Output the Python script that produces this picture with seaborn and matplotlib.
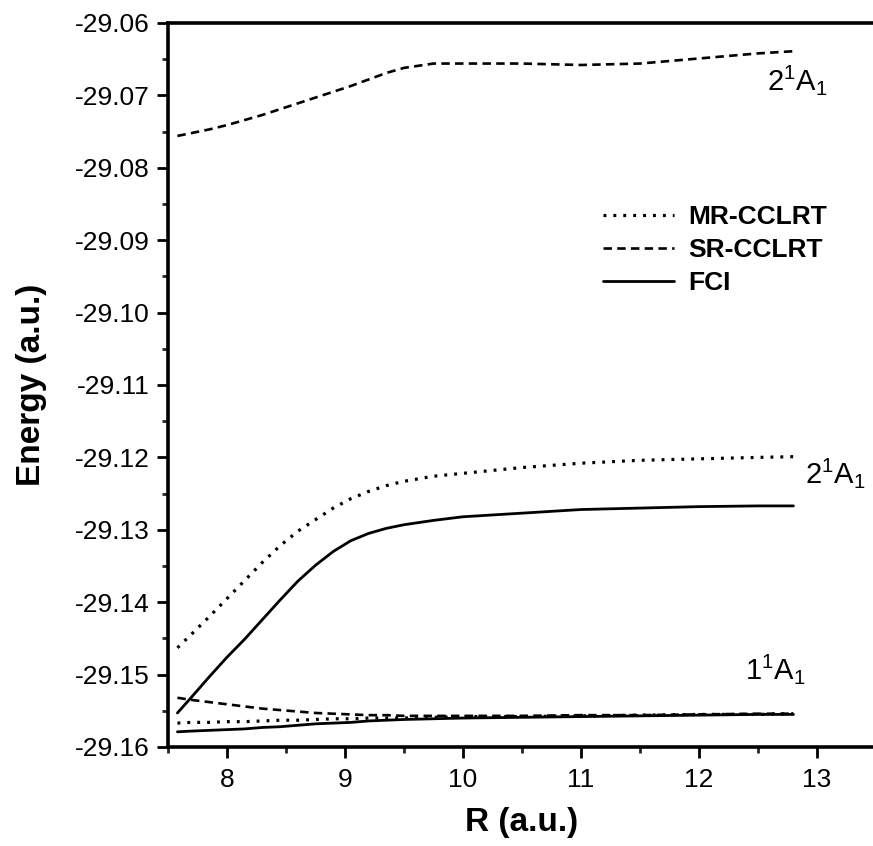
import matplotlib
matplotlib.use("Agg")
import matplotlib.pyplot as plt
import seaborn as sns
from matplotlib.ticker import MultipleLocator, StrMethodFormatter
from matplotlib.lines import Line2D

# ---------------- data ----------------
R = [7.58, 7.7, 7.85, 8.0, 8.15, 8.3, 8.45, 8.6, 8.75, 8.9, 9.05, 9.2, 9.35, 9.5, 9.75,
     10.0, 10.5, 11.0, 11.5, 12.0, 12.5, 12.8]

fci_2A1 = [-29.1553, -29.1531, -29.1503, -29.1476, -29.1451, -29.1424, -29.1397, -29.1371, -29.1349,
           -29.1330, -29.1315, -29.1305, -29.1298, -29.1293, -29.1287,
           -29.1282, -29.1277, -29.1272, -29.1270, -29.1268, -29.1267, -29.1267]
mr_2A1 = [-29.1463, -29.1444, -29.1420, -29.1395, -29.1370, -29.1345, -29.1322, -29.1302, -29.1286,
          -29.1270, -29.1257, -29.1247, -29.1239, -29.1233, -29.1226,
          -29.1222, -29.1214, -29.1208, -29.1204, -29.1202, -29.1200, -29.1199]
sr_2A1 = [-29.0756, -29.0752, -29.0747, -29.0741, -29.0734, -29.0727, -29.0719, -29.0711, -29.0703,
          -29.0695, -29.0687, -29.0678, -29.0669, -29.0662, -29.0656,
          -29.0656, -29.0656, -29.0658, -29.0656, -29.0649, -29.0642, -29.0639]

sr_1A1 = [-29.1532, -29.1535, -29.1538, -29.1541, -29.1544, -29.1547, -29.1549, -29.1551, -29.1553,
          -29.1554, -29.1555, -29.1556, -29.1556, -29.1557, -29.1557,
          -29.1557, -29.1557, -29.1556, -29.1556, -29.1555, -29.1554, -29.1554]
mr_1A1 = [-29.1567, -29.1566, -29.1566, -29.1565, -29.1565, -29.1564, -29.1563, -29.1563, -29.1562,
          -29.1561, -29.1561, -29.1560, -29.1560, -29.1560, -29.1559,
          -29.1558, -29.1558, -29.1557, -29.1556, -29.1555, -29.1555, -29.1554]
fci_1A1 = [-29.1579, -29.1578, -29.1577, -29.1576, -29.1575, -29.1573, -29.1572, -29.1570, -29.1568,
           -29.1567, -29.1566, -29.1564, -29.1563, -29.1562, -29.1561,
           -29.1560, -29.1559, -29.1558, -29.1557, -29.1556, -29.1555, -29.1555]

methods = ["MR-CCLRT", "SR-CCLRT", "FCI"]
x_ticks = [8, 9, 10, 11, 12, 13]
y_ticks = [-29.06, -29.07, -29.08, -29.09, -29.10, -29.11, -29.12, -29.13, -29.14, -29.15, -29.16]

# ---------------- style ----------------
sns.set_style("ticks")
plt.rcParams["font.family"] = ["Liberation Sans", "DejaVu Sans"]
plt.rcParams["axes.unicode_minus"] = False
plt.rcParams["text.color"] = "black"
plt.rcParams["axes.labelcolor"] = "black"
plt.rcParams["mathtext.fontset"] = "custom"
plt.rcParams["mathtext.rm"] = "Liberation Sans"
plt.rcParams["mathtext.it"] = "Liberation Sans"
plt.rcParams["mathtext.bf"] = "Liberation Sans:bold"

fig = plt.figure(figsize=(8.73, 8.46), dpi=100)
ax = fig.add_axes([168 / 873, 1 - 747 / 846, 708 / 873, 724 / 846])

styles = {
    "MR-CCLRT": dict(linestyle=(0, (0.9, 2.2)), linewidth=2.3),
    "SR-CCLRT": dict(linestyle=(0, (3.2, 2.0)), linewidth=1.9),
    "FCI": dict(linestyle="-", linewidth=2.0),
}
series = [
    ("SR-CCLRT", sr_2A1), ("MR-CCLRT", mr_2A1), ("FCI", fci_2A1),
    ("SR-CCLRT", sr_1A1), ("MR-CCLRT", mr_1A1), ("FCI", fci_1A1),
]
for name, vals in series:
    sns.lineplot(x=R, y=vals, ax=ax, color="black", legend=False,
                 solid_joinstyle="round", **styles[name])

ax.set_xlim(7.5, 13.5)
ax.set_ylim(-29.16, -29.06)
ax.set_xticks(x_ticks)
ax.set_yticks(y_ticks)
ax.xaxis.set_minor_locator(MultipleLocator(0.5))
ax.yaxis.set_minor_locator(MultipleLocator(0.005))
ax.yaxis.set_major_formatter(StrMethodFormatter("{x:.2f}"))

for s in ["left", "bottom", "top"]:
    ax.spines[s].set_linewidth(2.6)
    ax.spines[s].set_color("black")
ax.spines["right"].set_visible(False)

ax.tick_params(axis="both", which="major", direction="out", length=8, width=2.0,
               labelsize=19, colors="black", pad=5)
ax.tick_params(axis="x", which="major", pad=7)
ax.tick_params(axis="both", which="minor", direction="out", length=4.5, width=2.0)
ax.tick_params(top=False, right=False, which="both")

ax.set_xlabel("R (a.u.)", fontsize=24, fontweight="bold", labelpad=11)
ax.set_ylabel("Energy (a.u.)", fontsize=24, fontweight="bold", labelpad=20)

# legend
handles = [Line2D([0], [0], color="black", **styles[m]) for m in methods]
leg = ax.legend(handles, methods, loc="upper left", bbox_to_anchor=(0.614, 0.748),
                frameon=False, handlelength=2.7, handletextpad=0.55, labelspacing=0.34,
                borderpad=0, borderaxespad=0, prop={"size": 19, "weight": "bold"})

# state labels
ax.text(12.58, -29.0693, r"$\mathregular{2^1A_1}$", fontsize=21, va="baseline", ha="left")
ax.text(12.90, -29.1235, r"$\mathregular{2^1A_1}$", fontsize=21, va="baseline", ha="left")
ax.text(12.39, -29.1507, r"$\mathregular{1^1A_1}$", fontsize=21, va="baseline", ha="left")

fig.savefig("out.png", dpi=100)
